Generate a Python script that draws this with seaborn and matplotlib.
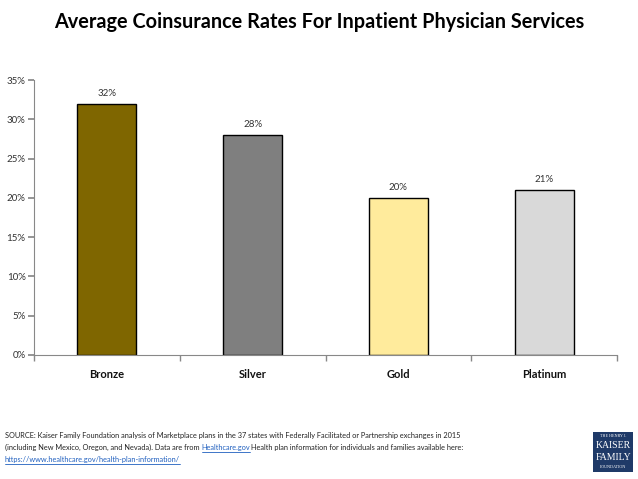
import matplotlib
matplotlib.use("Agg")
import matplotlib.pyplot as plt
import seaborn as sns
import pandas as pd
from matplotlib.patches import Rectangle
from matplotlib.lines import Line2D

categories = ["Bronze", "Silver", "Gold", "Platinum"]
values = [32, 28, 20, 21]
colors = ["#7F6600", "#7F7F7F", "#FFEB9C", "#D9D9D9"]
yticks = [0, 5, 10, 15, 20, 25, 30, 35]
title = "Average Coinsurance Rates For Inpatient Physician Services"

sns.set_theme(style="white")
plt.rcParams['font.family'] = ['Lato', 'DejaVu Sans']

df = pd.DataFrame({"plan": categories, "rate": values})

fig = plt.figure(figsize=(6.38, 4.79), dpi=100)
ax = fig.add_axes([34/638, 1-355/479, (617-34)/638, (355-80)/479])
sns.barplot(data=df, x="plan", y="rate", hue="plan", palette=colors, legend=False,
            width=0.405, edgecolor="black", linewidth=1.0, ax=ax, saturation=1)
ax.set_xlim(-0.5, 3.5)
ax.set_ylim(0, 35)
ax.set_yticks(yticks)
ax.set_yticklabels([f"{t}%" for t in yticks], fontsize=7, color="#333333")
ax.set_xticks(range(len(categories)))
ax.set_xticklabels(categories, fontsize=8, fontweight="bold", color="#111111")
ax.tick_params(axis="x", length=0, pad=10)
ax.set_xticks([-0.5, 0.5, 1.5, 2.5, 3.5], minor=True)
ax.tick_params(axis="x", which="minor", length=4, color="#888888", direction="out", bottom=True)
ax.tick_params(axis="y", length=4, color="#888888", direction="out", left=True, pad=2)
ax.set_xlabel("")
ax.set_ylabel("")
for s in ["top", "right"]:
    ax.spines[s].set_visible(False)
for s in ["left", "bottom"]:
    ax.spines[s].set_color("#888888")
    ax.spines[s].set_linewidth(0.8)

for i, v in enumerate(values):
    ax.annotate(f"{v}%", (i, v), xytext=(0, 4), textcoords="offset points",
                ha="center", va="bottom", fontsize=7, color="#333333")

fig.text(0.5, 1-22/479, title, ha="center", va="center", fontsize=14.3,
         fontweight="bold", color="black")

fs = 5.3
y1 = 1-438/479
y2 = 1-450/479
y3 = 1-462/479
x0 = 5/638
fig.text(x0, y1, "SOURCE: Kaiser Family Foundation analysis of Marketplace plans in the 37 states with Federally Facilitated or Partnership exchanges in 2015",
         fontsize=fs, va="baseline", ha="left", color="#222222")
t_a = fig.text(x0, y2, "(including New Mexico, Oregon, and Nevada). Data are from",
               fontsize=fs, va="baseline", ha="left", color="#222222")
fig.canvas.draw()
r = fig.canvas.get_renderer()
bb = t_a.get_window_extent(r)
x_link = (bb.x1 + 2) / fig.bbox.width
t_link = fig.text(x_link, y2, "Healthcare.gov", fontsize=fs, va="baseline", ha="left", color="#1F5FBF")
fig.canvas.draw()
bb2 = t_link.get_window_extent(r)
x_rest = (bb2.x1 + 1) / fig.bbox.width
fig.text(x_rest, y2, "Health plan information for individuals and families available here:",
         fontsize=fs, va="baseline", ha="left", color="#222222")
t_url = fig.text(x0, y3, "https://www.healthcare.gov/health-plan-information/",
                 fontsize=fs, va="baseline", ha="left", color="#1F5FBF")
fig.canvas.draw()
H = fig.bbox.height
for t, yb in ((t_link, y2), (t_url, y3)):
    b = t.get_window_extent(r)
    yy = yb - 1.5 / H
    fig.add_artist(Line2D([b.x0 / fig.bbox.width, b.x1 / fig.bbox.width], [yy, yy],
                          transform=fig.transFigure, color="#1F5FBF", linewidth=0.6))

# logo
lx, ly, lw, lh = 593/638, 1-472/479, 40/638, 40/479
fig.add_artist(Rectangle((lx, ly), lw, lh, transform=fig.transFigure,
                         facecolor="#1F3A68", edgecolor="none"))
cx = lx + lw/2
fig.text(cx, 1-436/479, "THE HENRY J.", fontsize=3, color="white", ha="center", va="center", family="Liberation Serif")
fig.text(cx, 1-446/479, "KAISER", fontsize=7, color="white", ha="center", va="center", family="Liberation Serif")
fig.text(cx, 1-457/479, "FAMILY", fontsize=7, color="white", ha="center", va="center", family="Liberation Serif")
fig.text(cx, 1-467/479, "FOUNDATION", fontsize=3, color="white", ha="center", va="center", family="Liberation Serif")

fig.savefig("out.png", dpi=100)
